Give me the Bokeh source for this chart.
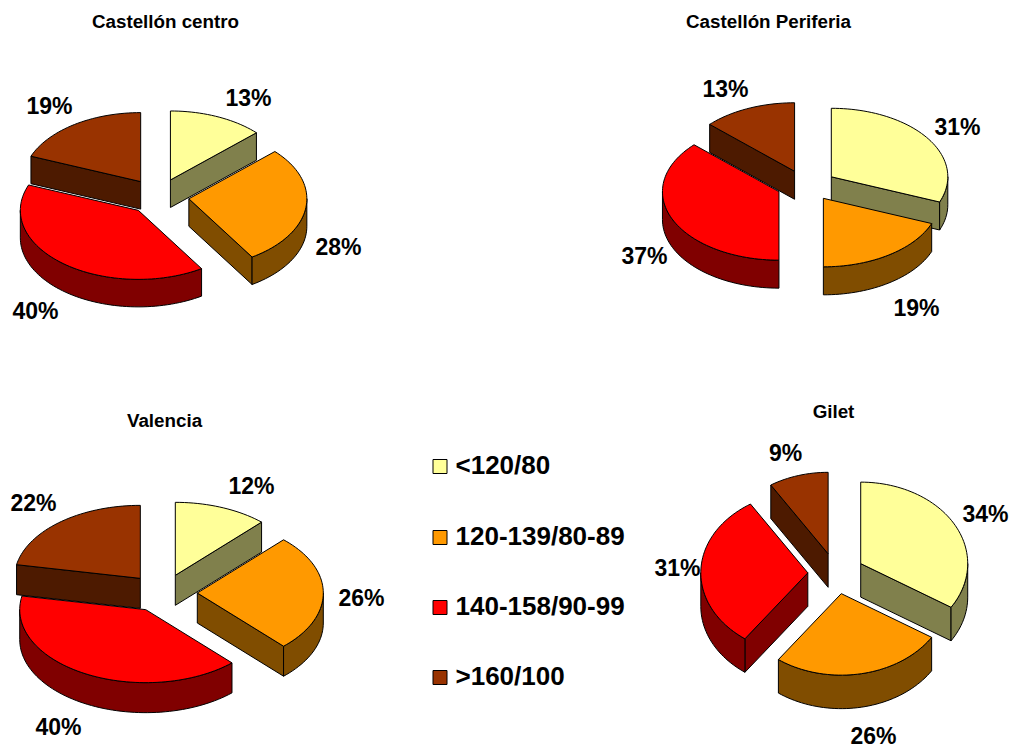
import numpy as np
from bokeh.embed import file_html
from bokeh.models import Range1d
from bokeh.plotting import figure
from bokeh.resources import INLINE
from bokeh.core.properties import value

# Blood pressure categories and their share (%) at each site
categories = ["<120/80", "120-139/80-89", "140-158/90-99", ">160/100"]
castellon_centro = [13, 28, 40, 19]
castellon_periferia = [31, 19, 37, 13]
valencia = [12, 26, 40, 22]
gilet = [34, 26, 31, 9]

top_colors = ["#FFFF99", "#FF9900", "#FF0000", "#993300"]
side_colors = ["#80804C", "#804D00", "#800000", "#4D1A00"]

FONT = value("Liberation Sans")

# Layout of each pie: title, centre, radii, height of the extrusion,
# explode offsets and the anchor of each percentage label.
pies = [
    dict(title="Castellón centro", title_xy=(165, 21), values=castellon_centro,
         c=(157.6, 196), r=(118, 69), depth=27.5, ex=(31, 18),
         labels=[(248, 97), (338, 246), (35, 310), (49, 105)]),
    dict(title="Castellón Periferia", title_xy=(768, 21), values=castellon_periferia,
         c=(806, 185), r=(116.5, 68.5), depth=28, ex=(30, 15.5),
         labels=[(957, 126), (916, 307), (644, 255), (725, 88)]),
    dict(title="Valencia", title_xy=(164, 420), values=valencia,
         c=(162, 592.5), r=(126, 73), depth=30, ex=(34.8, 19),
         labels=[(251, 485), (361, 597), (58, 726), (33, 502)]),
    dict(title="Gilet", title_xy=(833, 411), values=gilet,
         c=(835.5, 573), r=(107, 81.5), depth=33.5, ex=(28.2, 20.5),
         labels=[(985, 513), (873, 735), (677, 567), (785, 452)]),
]
legend_y = [466, 537, 607, 677]

p = figure(width=1011, height=749, output_backend="svg", toolbar_location=None,
           x_range=Range1d(0, 1011), y_range=Range1d(749, 0), min_border=0)
p.axis.visible = False
p.grid.visible = False
p.outline_line_color = None
p.background_fill_color = "white"
p.border_fill_color = "white"


def arc_points(ax, ay, rx, ry, start, end):
    """Points along an elliptical arc; angles run clockwise from 12 o'clock."""
    n = max(2, int(abs(end - start) / 2) + 1)
    t = np.radians(np.linspace(start, end, n))
    return ax + rx * np.sin(t), ay - ry * np.cos(t)


def draw(xs, ys, color):
    p.patch(list(xs), list(ys), fill_color=color, line_color="black",
            line_width=1, line_join="round")


def draw_slice(ax, ay, rx, ry, depth, start, end, top, side):
    # Radial walls that face the viewer
    for angle, seen in ((start, np.sin(np.radians(start)) < -1e-6),
                        (end, np.sin(np.radians(end)) > 1e-6)):
        if seen:
            ex, ey = arc_points(ax, ay, rx, ry, angle, angle)
            draw([ax, ex[0], ex[0], ax], [ay, ey[0], ey[0] + depth, ay + depth], side)
    # Outer rim: only the front half of the circle faces the viewer
    lo, hi = max(start, 90), min(end, 270)
    if hi > lo:
        rim_x, rim_y = arc_points(ax, ay, rx, ry, lo, hi)
        draw(np.r_[rim_x, rim_x[::-1]], np.r_[rim_y, rim_y[::-1] + depth], side)
    # Top face
    arc_x, arc_y = arc_points(ax, ay, rx, ry, start, end)
    draw(np.r_[ax, arc_x], np.r_[ay, arc_y], top)


for pie in pies:
    cx, cy = pie["c"]
    rx, ry = pie["r"]
    ex, ey = pie["ex"]
    edges = np.r_[0, np.cumsum(pie["values"])] * 3.6
    parts = []
    for i in range(len(pie["values"])):
        start, end = edges[i], edges[i + 1]
        mid = np.radians((start + end) / 2)
        parts.append((cy - ey * np.cos(mid), cx + ex * np.sin(mid), start, end, i))
    # Paint from back to front so nearer slices overlap farther ones
    for ay, ax, start, end, i in sorted(parts):
        draw_slice(ax, ay, rx, ry, pie["depth"], start, end, top_colors[i], side_colors[i])

    p.text([pie["title_xy"][0]], [pie["title_xy"][1]], text=[pie["title"]],
           text_font=FONT, text_font_style="bold", text_font_size="18.8px",
           text_align="center", text_baseline="middle", text_color="black")
    for v, (lx, ly) in zip(pie["values"], pie["labels"]):
        p.text([lx], [ly], text=[f"{v}%"], text_font=FONT, text_font_style="bold",
               text_font_size="23px", text_align="center", text_baseline="middle",
               text_color="black")

# Legend between the two lower pies
p.scatter([439.5] * 4, legend_y, marker="square", size=14, fill_color=top_colors,
          line_color="black", line_width=1)
p.text([455] * 4, [y - 1.5 for y in legend_y], text=categories, text_font=FONT,
       text_font_style="bold", text_font_size="26px", text_align="left",
       text_baseline="middle", text_color="black")

open("out.html", "w").write(file_html(p, INLINE))
